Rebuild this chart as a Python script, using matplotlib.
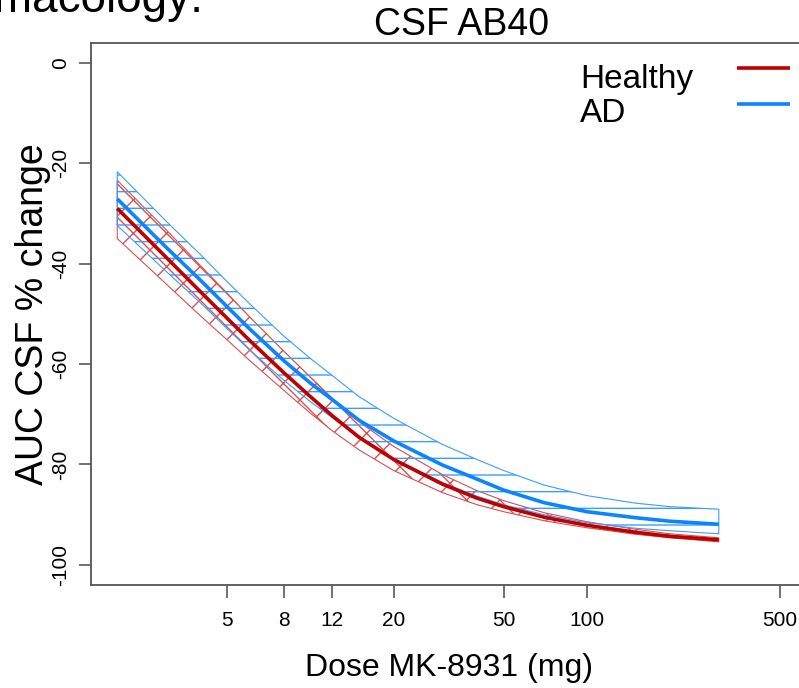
import matplotlib
matplotlib.use("Agg")
import matplotlib.pyplot as plt

plt.rcParams['font.family'] = ['Liberation Sans', 'DejaVu Sans']
plt.rcParams['hatch.linewidth'] = 1.0

# values
dose = [2, 3, 4, 5, 6, 8, 10, 12, 15, 20, 30, 40, 50, 70, 100, 150, 200, 300]

healthy_mid = [-29.0, -38.7, -45.6, -50.9, -55.2, -61.7, -66.5, -70.3, -74.6, -79.0,
               -83.9, -86.7, -88.4, -90.5, -92.1, -93.5, -94.3, -95.0]
healthy_hi = [-23.4, -33.2, -40.4, -45.9, -50.5, -57.4, -62.6, -66.8, -71.5, -76.4,
              -82.0, -85.2, -87.2, -89.6, -91.4, -92.9, -93.8, -94.6]
healthy_lo = [-35.0, -44.0, -50.4, -55.2, -59.2, -65.2, -69.8, -73.3, -77.1, -81.2,
              -85.6, -88.0, -89.4, -91.2, -92.6, -93.9, -94.6, -95.4]

ad_mid = [-27.1, -36.7, -43.3, -48.6, -52.9, -59.3, -63.8, -67.1, -71.2, -75.3,
          -80.1, -82.9, -85.1, -87.6, -89.4, -90.6, -91.3, -91.9]
ad_hi = [-21.7, -31.5, -38.2, -43.6, -47.9, -54.4, -58.9, -62.3, -66.5, -70.8,
         -76.0, -79.0, -81.2, -84.1, -86.2, -87.7, -88.4, -88.9]
ad_lo = [-32.4, -41.5, -47.8, -53.0, -57.1, -63.2, -67.5, -70.7, -74.7, -78.8,
         -83.6, -86.3, -88.0, -90.0, -91.6, -92.7, -93.2, -93.8]

xticks = [5, 8, 12, 20, 50, 100, 500]
yticks = [0, -20, -40, -60, -80, -100]

red = '#C00000'
blue = '#0A84FF'

fig = plt.figure(figsize=(7.99, 6.88), dpi=100)
ax = fig.add_axes([0.1135, 0.1497, 0.8961, 0.7882])

# hatched confidence bands
ax.fill_between(dose, healthy_lo, healthy_hi, facecolor='none', edgecolor='#D85050',
                hatch='x', linewidth=0.8)
ax.fill_between(dose, ad_lo, ad_hi, facecolor='none', edgecolor='#3C9CFF',
                hatch='-', linewidth=0.8)

l_red, = ax.plot(dose, healthy_mid, color=red, lw=2.6, solid_capstyle='butt')
l_blue, = ax.plot(dose, ad_mid, color=blue, lw=2.6, solid_capstyle='butt')

ax.set_xscale('log')
ax.set_xlim(1.603, 623.7)
ax.set_ylim(-104, 4)
ax.set_xticks(xticks)
ax.set_xticklabels([str(t) for t in xticks], fontsize=15)
ax.minorticks_off()
ax.set_yticks(yticks)
ax.set_yticklabels([str(t) for t in yticks], fontsize=15, rotation=90, va='center')

for s in ax.spines.values():
    s.set_color('#555555')
    s.set_linewidth(1.3)
ax.tick_params(axis='both', length=9, width=1.3, color='#666666')
ax.tick_params(axis='x', pad=10)
ax.tick_params(axis='y', pad=6)

ax.set_xlabel('Dose MK-8931 (mg)', fontsize=23, labelpad=16)
ax.set_ylabel('AUC CSF % change', fontsize=27)
ax.yaxis.set_label_coords(-0.056, 0.5)
ax.set_title('CSF AB40', fontsize=27, x=0.5186, pad=4)

# legend: line samples through the legend, names as text
leg = ax.legend([l_red, l_blue], ['', ''], loc='upper right',
                bbox_to_anchor=(0.977, 0.9725), frameon=False, fontsize=20,
                handlelength=1.9, handletextpad=0, borderpad=0, borderaxespad=0,
                labelspacing=0.37)
ax.text(0.6834, 0.917, 'Healthy', transform=ax.transAxes, fontsize=24, va='baseline')
ax.text(0.6834, 0.853, 'AD', transform=ax.transAxes, fontsize=24, va='baseline')

# slide heading cut off at the top of the screenshot
fig.text(203 / 799, 1 - 12 / 688, 'Pharmacology:', ha='right', va='baseline',
         fontsize=33)

fig.savefig('out.png', dpi=100)
